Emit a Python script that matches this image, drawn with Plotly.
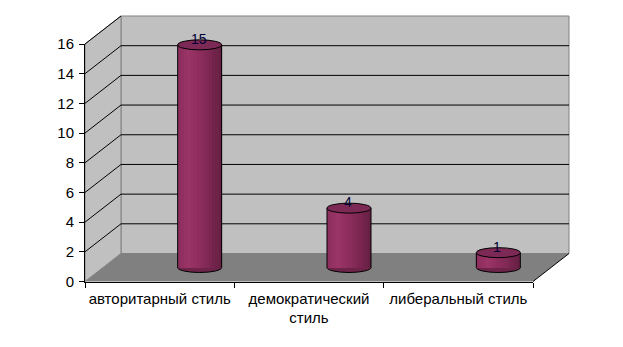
import plotly.graph_objects as go

# ---------------- data ----------------
categories = ["авторитарный стиль", "демократический<br>стиль", "либеральный стиль"]
values = [15, 4, 1]
y_tick_values = [0, 2, 4, 6, 8, 10, 12, 14, 16]
grid_values = [2, 4, 6, 8, 10, 12, 14]

# ---------------- geometry (pixels) ----------------
W_PX, H_PX = 623, 347
X_LEFT, X_RIGHT = 85.0, 533.0     # front edge of the floor
Y_ZERO, Y_TOP = 281.5, 44.0       # front value 0 and 16
YMAX = 16
NCAT = len(categories)
PX = (X_RIGHT - X_LEFT) / NCAT    # pixels per category
PY = (Y_ZERO - Y_TOP) / YMAX      # pixels per unit
DX = 36 / PX                      # depth offset (x units)
DY = 28 / PY                      # depth offset (y units)
XOFF = 40 / PX                    # cylinder shift relative to category centre
CW = 44 / PX                      # cylinder width
EY = 5 / PY                       # ellipse half height
BASE = DY / 2

# main (hidden) axes: pixel window
MX0, MX1 = 60, 600
MY0, MY1 = 5, 300
x_range = [-0.5 + (MX0 - X_LEFT) / PX, -0.5 + (MX1 - X_LEFT) / PX]
y_range = [(Y_ZERO - MY1) / PY, (Y_ZERO - MY0) / PY]

FONT = "Arial, Liberation Sans, sans-serif"
WALL = "#C0C0C0"
FLOOR = "#808080"
EDGE = "#808080"

fig = go.Figure()

shapes = []
xl = -0.5
xr = NCAT - 0.5
# back wall
shapes.append(dict(type="rect", xref="x", yref="y", layer="below",
                   x0=xl + DX, x1=xr + DX, y0=DY, y1=YMAX + DY,
                   fillcolor=WALL, line=dict(color=EDGE, width=1)))
# left wall
shapes.append(dict(type="path", xref="x", yref="y", layer="below",
                   path=f"M{xl},0 L{xl},{YMAX} L{xl+DX},{YMAX+DY} L{xl+DX},{DY} Z",
                   fillcolor=WALL, line=dict(color=EDGE, width=1)))
# floor
shapes.append(dict(type="path", xref="x", yref="y", layer="below",
                   path=f"M{xl},0 L{xr},0 L{xr+DX},{DY} L{xl+DX},{DY} Z",
                   fillcolor=FLOOR, line=dict(width=0)))
# right floor edge
shapes.append(dict(type="line", xref="x", yref="y", layer="below",
                   x0=xr, y0=0, x1=xr + DX, y1=DY, line=dict(color="black", width=1)))
# grid lines on back wall and left wall
for g in grid_values:
    shapes.append(dict(type="line", xref="x", yref="y", layer="below",
                       x0=xl + DX, x1=xr + DX, y0=g + DY, y1=g + DY,
                       line=dict(color="black", width=1)))
for g in grid_values + [YMAX]:
    shapes.append(dict(type="line", xref="x", yref="y", layer="below",
                       x0=xl, x1=xl + DX, y0=g, y1=g + DY,
                       line=dict(color="black", width=1)))

BODY_DARK = "#6E2449"
TOP_FILL = "#7C2A55"
# bottom ellipses
for i, v in enumerate(values):
    c = i + XOFF
    shapes.append(dict(type="circle", xref="x", yref="y", layer="below",
                       x0=c - CW / 2, x1=c + CW / 2, y0=BASE - EY, y1=BASE + EY,
                       fillcolor=BODY_DARK, line=dict(color="black", width=1)))

# cylinder bodies: overlapping strips for shading
def shade(t):
    stops = [(0.0, (138, 45, 92)), (0.25, (155, 52, 103)), (0.6, (135, 43, 89)), (1.0, (100, 31, 66))]
    for (t0, c0), (t1, c1) in zip(stops[:-1], stops[1:]):
        if t <= t1:
            f = (t - t0) / (t1 - t0)
            return "rgb(%d,%d,%d)" % tuple(round(a + (b - a) * f) for a, b in zip(c0, c1))
    return "rgb(%d,%d,%d)" % stops[-1][1]

NSTRIP = 14
for k in range(NSTRIP):
    left = XOFF - CW / 2 + k * CW / NSTRIP
    right = XOFF + CW / 2
    fig.add_trace(go.Bar(
        x=[i + (left + right) / 2 for i in range(NCAT)],
        y=values, base=[BASE] * NCAT, width=(right - left),
        marker=dict(color=shade((k + 0.5) / NSTRIP), line=dict(width=0)),
        hoverinfo="skip", showlegend=False, xaxis="x", yaxis="y"))

# sides and tops of cylinders
for i, v in enumerate(values):
    c = i + XOFF
    for sx in (c - CW / 2, c + CW / 2):
        shapes.append(dict(type="line", xref="x", yref="y", layer="above",
                           x0=sx, x1=sx, y0=BASE, y1=v + BASE,
                           line=dict(color="black", width=1)))
    shapes.append(dict(type="circle", xref="x", yref="y", layer="above",
                       x0=c - CW / 2, x1=c + CW / 2, y0=v + BASE - EY, y1=v + BASE + EY,
                       fillcolor=TOP_FILL, line=dict(color="black", width=1)))

annotations = []
for i, v in enumerate(values):
    annotations.append(dict(x=i + XOFF, y=v + BASE, xref="x", yref="y",
                            text=str(v), showarrow=False, xshift=-1, yshift=6,
                            font=dict(family=FONT, size=14, color="#000033")))

# visible axes trace (category labels, value ticks)
fig.add_trace(go.Scatter(x=categories, y=values, xaxis="x2", yaxis="y2",
                         mode="markers", marker=dict(opacity=0),
                         hoverinfo="skip", showlegend=False))

fig.update_layout(
    width=W_PX, height=H_PX,
    margin=dict(l=0, r=0, t=0, b=0, autoexpand=False),
    paper_bgcolor="white", plot_bgcolor="rgba(0,0,0,0)",
    barmode="overlay", bargap=0,
    shapes=shapes, annotations=annotations,
    xaxis=dict(domain=[MX0 / W_PX, MX1 / W_PX], range=x_range, visible=False,
               showgrid=False, zeroline=False, fixedrange=True, automargin=False),
    yaxis=dict(domain=[1 - MY1 / H_PX, 1 - MY0 / H_PX], range=y_range, visible=False,
               showgrid=False, zeroline=False, fixedrange=True, automargin=False),
    xaxis2=dict(domain=[X_LEFT / W_PX, X_RIGHT / W_PX], range=[-0.5, NCAT - 0.5],
                type="category", categoryorder="array", categoryarray=categories,
                anchor="y2", showline=True, linecolor="black", linewidth=1,
                ticks="outside", tickson="boundaries", ticklen=5, tickcolor="black",
                showgrid=False, zeroline=False, tickangle=0, automargin=False,
                fixedrange=True, ticklabelstandoff=3,
                tickfont=dict(family=FONT, size=15, color="black")),
    yaxis2=dict(domain=[1 - Y_ZERO / H_PX, 1 - Y_TOP / H_PX], range=[0, YMAX],
                anchor="x2", tickvals=y_tick_values, showline=True, linecolor="black",
                linewidth=1, ticks="outside", ticklen=5, tickcolor="black",
                showgrid=False, zeroline=False, automargin=False, fixedrange=True,
                ticklabelstandoff=2,
                tickfont=dict(family=FONT, size=15, color="black")),
)

fig.write_html("out.html")
